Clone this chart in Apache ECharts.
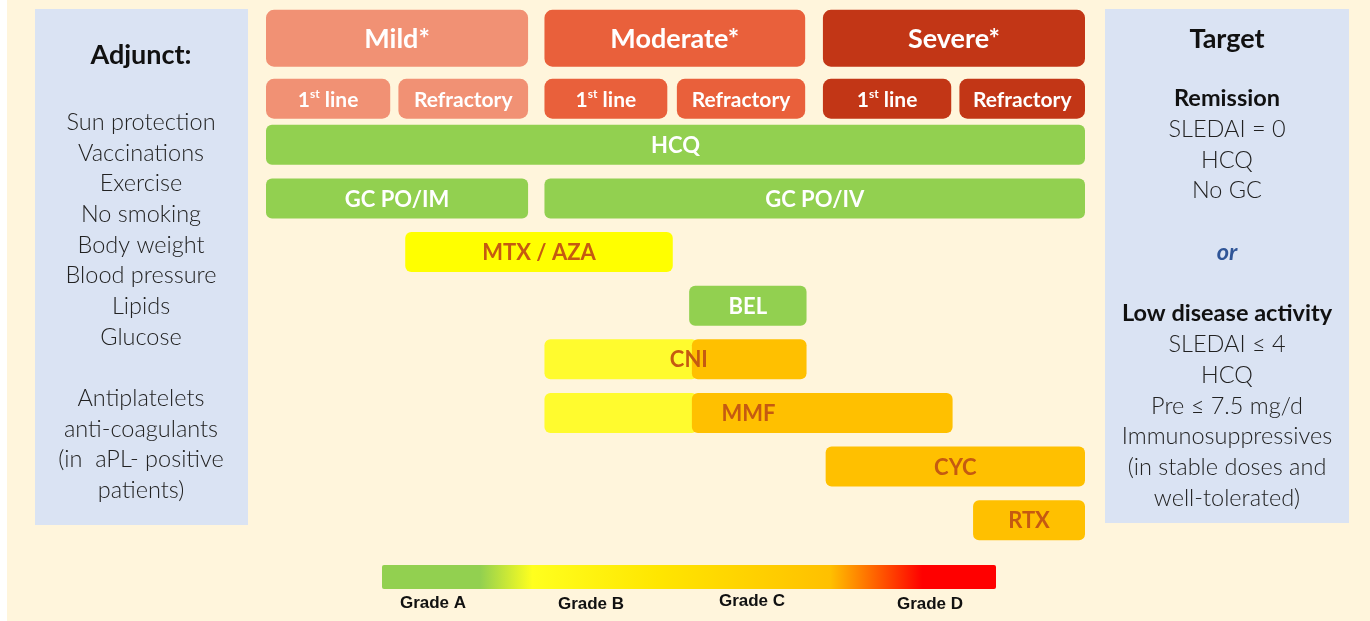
<!DOCTYPE html>
<html>
<head>
<meta charset="utf-8">
<script src="https://cdn.jsdelivr.net/npm/echarts@6/dist/echarts.min.js"></script>
<style>
  html, body { margin: 0; padding: 0; background: #fff; }
  #chart { width: 1370px; height: 621px; }
</style>
</head>
<body>
<div id="chart"></div>
<script>
// x axis: 0..6 = Mild 1st line | Mild refractory | Moderate 1st | Moderate refr. | Severe 1st | Severe refr.
var headerRows = ['Severity', 'Line'];

var severityNames = ['Mild*', 'Moderate*', 'Severe*'];
var severityStart = [0, 2.04, 4.08];
var severityEnd = [1.92, 3.95, 6];

var lineNames = ['1st line', 'Refractory', '1st line', 'Refractory', '1st line', 'Refractory'];
var lineStart = [0, 0.97, 2.04, 3.01, 4.08, 5.08];
var lineEnd = [0.91, 1.92, 2.94, 3.95, 5.02, 6];
var lineSeverity = [0, 0, 1, 1, 2, 2];

var drugRows = ['HCQ', 'GC', 'MTX / AZA', 'BEL', 'CNI', 'MMF', 'CYC', 'RTX'];
var drugNames = ['HCQ', 'GC PO/IM', 'GC PO/IV', 'MTX / AZA', 'BEL', 'CNI', 'MMF', 'CYC', 'RTX'];
var drugRow = ['HCQ', 'GC', 'GC', 'MTX / AZA', 'BEL', 'CNI', 'MMF', 'CYC', 'RTX'];
var drugStart = [0, 0, 2.04, 1.02, 3.10, 2.04, 2.04, 4.10, 5.18];
var drugEnd = [6, 1.92, 6, 2.98, 3.96, 3.96, 5.03, 6, 6];
// grade of evidence; 'BC' = grade B up to drugSplit, grade C after it
var drugGrade = ['A', 'A', 'A', 'B', 'A', 'BC', 'BC', 'C', 'C'];
var drugSplit = [null, null, null, null, null, 3.12, 3.12, null, null];

var adjunctLines = ['Sun protection', 'Vaccinations', 'Exercise', 'No smoking', 'Body weight',
  'Blood pressure', 'Lipids', 'Glucose', '', 'Antiplatelets', 'anti-coagulants',
  '(in  aPL- positive', 'patients)'];
var remissionLines = ['SLEDAI = 0', 'HCQ', 'No GC'];
var ldaLines = ['SLEDAI \u2264 4', 'HCQ', 'Pre \u2264 7.5 mg/d', 'Immunosuppressives',
  '(in stable doses and', 'well-tolerated)'];

var gradeLabels = ['Grade A', 'Grade B', 'Grade C', 'Grade D'];

var FONT = 'Lato, "Open Sans", sans-serif';
var severityColors = ['#F19174', '#E9603B', '#C23616'];
var gradeColors = { A: '#92D050', B: '#FFFF00', B2: '#FFFB2E', C: '#FFC000' };
var darkText = '#C55A11';

function headerItem(heightRatio, fontSize, rich) {
  return function (params, api) {
    var row = api.value(2);
    var a = api.coord([api.value(0), row]);
    var b = api.coord([api.value(1), row]);
    var h = api.size([0, 1])[1] * heightRatio;
    var name = api.value(3);
    var color = severityColors[api.value(4)];
    var txt = rich && name === '1st line' ? '{n|1}{s|st}{n| line}' : '{n|' + name + '}';
    return {
      type: 'group',
      children: [{
        type: 'rect',
        shape: { x: a[0], y: a[1] - h / 2, width: b[0] - a[0], height: h, r: 8 },
        style: { fill: color }
      }, {
        type: 'text',
        style: {
          x: (a[0] + b[0]) / 2, y: a[1] + 1, align: 'center', verticalAlign: 'middle',
          text: txt,
          rich: {
            n: { fontFamily: FONT, fontWeight: 'bold', fontSize: fontSize, fill: '#fff', lineHeight: fontSize + 2 },
            s: { fontFamily: FONT, fontWeight: 'bold', fontSize: 12, fill: '#fff', verticalAlign: 'top', lineHeight: fontSize + 2 }
          }
        }
      }]
    };
  };
}

var severityData = severityNames.map(function (n, i) {
  return [severityStart[i], severityEnd[i], 0, n, i];
});
var lineData = lineNames.map(function (n, i) {
  return [lineStart[i], lineEnd[i], 1, n, lineSeverity[i]];
});
var drugData = drugNames.map(function (n, i) {
  return [drugStart[i], drugEnd[i], drugRows.indexOf(drugRow[i]), n];
});

function drugItem(params, api) {
  var i = params.dataIndex;
  var row = api.value(2);
  var a = api.coord([api.value(0), row]);
  var b = api.coord([api.value(1), row]);
  var h = api.size([0, 1])[1] * 0.745;
  var y = a[1] - h / 2;
  var grade = drugGrade[i];
  var children = [];
  var labelX = (a[0] + b[0]) / 2;
  var textColor = grade === 'A' ? '#fff' : darkText;
  if (drugSplit[i] != null) {
    var s = api.coord([drugSplit[i], row])[0];
    children.push({ type: 'rect', shape: { x: a[0], y: y, width: s - a[0] + 6, height: h, r: 6 }, style: { fill: gradeColors.B2 } });
    children.push({ type: 'rect', shape: { x: s, y: y, width: b[0] - s, height: h, r: 6 }, style: { fill: gradeColors.C } });
    if (drugNames[i] === 'CNI') labelX = s - 3;
  } else {
    children.push({ type: 'rect', shape: { x: a[0], y: y, width: b[0] - a[0], height: h, r: 6 }, style: { fill: gradeColors[grade] } });
  }
  children.push({
    type: 'text',
    style: {
      x: labelX, y: a[1] + 1, align: 'center', verticalAlign: 'middle',
      text: drugNames[i], fill: textColor,
      fontFamily: FONT, fontWeight: 'bold', fontSize: 22
    }
  });
  return { type: 'group', children: children };
}

function wrap(key, lines) {
  return lines.map(function (l) { return '{' + key + '|' + (l || ' ') + '}'; }).join('\n');
}
var rightText = wrap('b', ['Remission']) + '\n' + wrap('n', remissionLines) + '\n' +
  wrap('n', ['']) + '\n' + wrap('or', ['or']) + '\n' + wrap('n', ['']) + '\n' +
  wrap('b', ['Low disease activity']) + '\n' + wrap('n', ldaLines);

var gradeX = [433, 591, 752, 930];
var gradeY = [603, 604, 601, 604];

var graphics = [
  { type: 'rect', shape: { x: 0, y: 0, width: 7, height: 621 }, style: { fill: '#fff' }, silent: true },
  { type: 'rect', shape: { x: 35, y: 9, width: 213, height: 516 }, style: { fill: '#DAE3F3' }, z: -1 },
  { type: 'rect', shape: { x: 1105, y: 9, width: 244, height: 514 }, style: { fill: '#DAE3F3' }, z: -1 },
  { type: 'text', style: { x: 141, y: 55, text: 'Adjunct:', align: 'center', verticalAlign: 'middle',
      fontFamily: FONT, fontWeight: 'bold', fontSize: 27, fill: '#111' } },
  { type: 'text', style: { x: 141, y: 107, text: adjunctLines.join('\n'), align: 'center', verticalAlign: 'top',
      fontFamily: FONT, fontWeight: 300, fontSize: 23.5, lineHeight: 30.67, fill: '#222' } },
  { type: 'text', style: { x: 1227, y: 39, text: 'Target', align: 'center', verticalAlign: 'middle',
      fontFamily: FONT, fontWeight: 'bold', fontSize: 27, fill: '#111' } },
  { type: 'text', style: { x: 1227, y: 83, text: rightText, align: 'center', verticalAlign: 'top',
      rich: {
        b: { fontFamily: FONT, fontWeight: 'bold', fontSize: 23.5, fill: '#111', lineHeight: 30.77 },
        n: { fontFamily: FONT, fontWeight: 300, fontSize: 23.5, fill: '#222', lineHeight: 30.77 },
        or: { fontFamily: FONT, fontWeight: 'bold', fontStyle: 'italic', fontSize: 23.5, fill: '#2F5597', lineHeight: 30.77 }
      } } },
  { type: 'rect', shape: { x: 382, y: 565, width: 614, height: 24, r: 2 },
    style: { fill: new echarts.graphic.LinearGradient(0, 0, 1, 0, [
      { offset: 0, color: '#92D050' }, { offset: 0.16, color: '#92D050' },
      { offset: 0.245, color: '#FFFF1E' }, { offset: 0.45, color: '#FFE600' },
      { offset: 0.73, color: '#FFC000' }, { offset: 0.88, color: '#FF0000' },
      { offset: 1, color: '#FF0000' }]) } }
];
gradeLabels.forEach(function (g, i) {
  graphics.push({ type: 'text', style: { x: gradeX[i], y: gradeY[i], text: g, align: 'center', verticalAlign: 'middle',
    fontFamily: '"Liberation Sans", Arial, sans-serif', fontWeight: 'bold', fontSize: 17, fill: '#111' } });
});

var chart = echarts.init(document.getElementById('chart'));
chart.setOption({
  backgroundColor: '#FFF5DC',
  animation: false,
  grid: [
    { left: 266, right: 285, top: 8, height: 121 },
    { left: 266, right: 285, top: 118, bottom: 74 }
  ],
  xAxis: [
    { type: 'value', gridIndex: 0, min: 0, max: 6, show: false },
    { type: 'value', gridIndex: 1, min: 0, max: 6, show: false }
  ],
  yAxis: [
    { type: 'category', gridIndex: 0, data: headerRows, inverse: true, show: false },
    { type: 'category', gridIndex: 1, data: drugRows, inverse: true, show: false }
  ],
  series: [
    { type: 'custom', xAxisIndex: 0, yAxisIndex: 0, renderItem: headerItem(0.94, 27, false),
      encode: { x: [0, 1], y: 2 }, data: severityData },
    { type: 'custom', xAxisIndex: 0, yAxisIndex: 0, renderItem: headerItem(0.66, 21, true),
      encode: { x: [0, 1], y: 2 }, data: lineData },
    { type: 'custom', xAxisIndex: 1, yAxisIndex: 1, renderItem: drugItem,
      encode: { x: [0, 1], y: 2 }, data: drugData }
  ],
  graphic: graphics
});
</script>
</body>
</html>
